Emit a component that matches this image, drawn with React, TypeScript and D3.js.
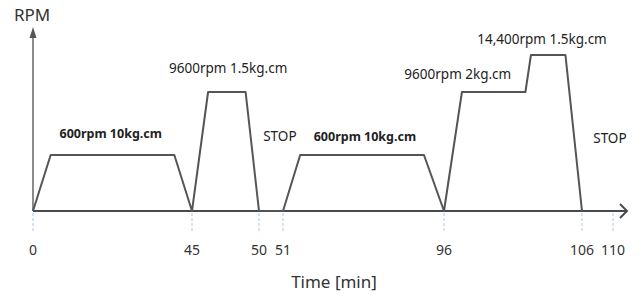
import * as d3 from "d3";
import React, { useRef, useEffect } from "react";

// time ticks on the (non-uniform, schematic) time axis
const tickTimes = [0, 45, 50, 51, 96, 106, 110];
const tickLabels = ["0", "45", "50", "51", "96", "106", "110"];

// speed profile
const profileTime = [0, 5, 40, 45, 46.2, 49, 50, 51, 55.8, 90.4, 96, 97.3, 101.9, 102.3, 104.8, 106];
const profileRpm = [0, 600, 600, 0, 9600, 9600, 0, 0, 600, 600, 0, 9600, 9600, 14400, 14400, 0];

// rpm levels used on the schematic y axis
const rpmLevels = [0, 600, 9600, 14400];

// annotations
const noteText = ["600rpm 10kg.cm", "9600rpm 1.5kg.cm", "STOP", "600rpm 10kg.cm", "9600rpm 2kg.cm", "14,400rpm 1.5kg.cm", "STOP"];
const noteTime = [22, 47.7, 50.87, 73.9, 97, 103.1, 109.6];
const noteRpm = [600, 9600, 600, 600, 9600, 14400, 600];
const noteBold = [true, false, false, true, false, false, false];

const W = 641;
const H = 297;
const font = "'Noto Sans', sans-serif";

const App = () => {
	const ref = useRef(null);

	useEffect(() => {
		if (!ref.current) return;
		const svg = d3.select(ref.current);
		svg.selectAll("*").remove();

		const x = d3.scaleLinear().domain(tickTimes).range([33, 192, 259, 283, 444, 582, 613]);
		const y = d3.scaleLinear().domain(rpmLevels).range([211, 155, 92, 55]);
		const y0 = y(0);
		const axisColor = "#4a4a4a";

		// tick guides
		svg
			.selectAll(".tick")
			.data(tickTimes)
			.enter()
			.append("line")
			.attr("x1", (d) => x(d))
			.attr("x2", (d) => x(d))
			.attr("y1", y0 + 2)
			.attr("y2", y0 + 22)
			.attr("stroke", "#a9c9ea")
			.attr("stroke-width", 1)
			.attr("stroke-dasharray", "3,2");

		svg
			.selectAll(".tlabel")
			.data(tickTimes)
			.enter()
			.append("text")
			.attr("x", (d) => x(d))
			.attr("y", y0 + 44)
			.attr("text-anchor", "middle")
			.attr("font-family", font)
			.attr("font-size", 14)
			.attr("fill", "#333")
			.text((d, i) => tickLabels[i]);

		// axes
		svg
			.append("line")
			.attr("x1", x(0))
			.attr("x2", 627)
			.attr("y1", y0)
			.attr("y2", y0)
			.attr("stroke", axisColor)
			.attr("stroke-width", 2);
		svg
			.append("path")
			.attr("d", `M620,${y0 - 7} L627,${y0} L620,${y0 + 7}`)
			.attr("fill", "none")
			.attr("stroke", axisColor)
			.attr("stroke-width", 2);
		svg
			.append("line")
			.attr("x1", x(0))
			.attr("x2", x(0))
			.attr("y1", y0)
			.attr("y2", 34)
			.attr("stroke", "#666")
			.attr("stroke-width", 1.5);
		svg
			.append("path")
			.attr("d", `M${x(0)},27 L${x(0) + 3.5},38 L${x(0) - 3.5},38 Z`)
			.attr("fill", "#555");

		// profile
		const line = d3
			.line<number>()
			.x((d, i) => x(profileTime[i]))
			.y((d) => y(d));
		svg
			.append("path")
			.attr("d", line(profileRpm))
			.attr("fill", "none")
			.attr("stroke", "#555")
			.attr("stroke-width", 2)
			.attr("stroke-linejoin", "round");

		// annotations
		const dys = [-17.5, -19.5, -14.5, -14.5, -13.5, -11.5, -12.5];
		svg
			.selectAll(".note")
			.data(noteText)
			.enter()
			.append("text")
			.attr("x", (d, i) => x(noteTime[i]))
			.attr("y", (d, i) => y(noteRpm[i]) + dys[i])
			.attr("text-anchor", "middle")
			.attr("font-family", font)
			.attr("font-size", (d, i) => (noteBold[i] ? 12.5 : 13.5))
			.attr("font-weight", (d, i) => (noteBold[i] ? "bold" : "normal"))
			.attr("fill", "#222")
			.text((d) => d);

		// axis titles
		svg
			.append("text")
			.attr("x", 14)
			.attr("y", 21)
			.attr("font-family", font)
			.attr("font-size", 17)
			.attr("fill", "#333")
			.text("RPM");
		svg
			.append("text")
			.attr("x", 334)
			.attr("y", 288)
			.attr("text-anchor", "middle")
			.attr("font-family", font)
			.attr("font-size", 17)
			.attr("fill", "#333")
			.text("Time [min]");
	}, []);

	return (
		<svg
			ref={ref}
			width={W}
			height={H}
			style={{ position: "absolute", left: 0, top: 0, backgroundColor: "white" }}
		/>
	);
};

export default App;
